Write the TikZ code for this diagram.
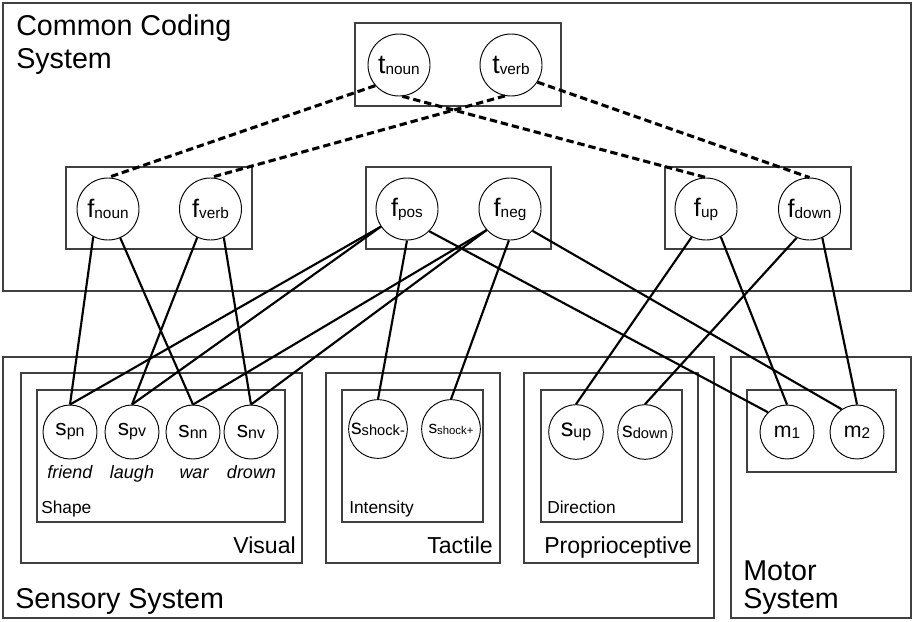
\documentclass[tikz,border=0pt]{standalone}
\usepackage{fontspec}
\setmainfont{Liberation Sans}
% text at a given size in pt
\newcommand\fs[2]{{\fontsize{#1pt}{#1pt}\selectfont #2}}
% unit label: main letter, then a smaller index set on (nearly) the same baseline
\newcommand\ulab[4]{\fs{#1}{#2}\raisebox{-0.8pt}{\fs{#3}{#4}}}
\begin{document}
\begin{tikzpicture}[x=0.75pt,y=-0.75pt,
  frame/.style={draw=black!75,line width=0.9pt},
  unit/.style={circle,draw,line width=0.7pt,inner sep=0pt,fill=white},
  bigunit/.style={unit,minimum size=46.5pt},
  smallunit/.style={unit,minimum size=40.5pt},
  title/.style={inner sep=0pt,font=\fontsize{21.5pt}{24pt}\selectfont},
  modality/.style={inner sep=0pt,font=\fontsize{17.3pt}{20pt}\selectfont},
  feature/.style={inner sep=0pt,font=\fontsize{13pt}{15pt}\selectfont},
  word/.style={inner sep=0pt,font=\fontsize{13.5pt}{15pt}\selectfont\itshape},
  link/.style={line width=1.6pt},
  toplink/.style={line width=2.3pt,dash pattern=on 5.5pt off 3pt}]
\useasboundingbox (0,0) rectangle (912,621);
\fill[white] (0,0) rectangle (912,621);

% system frames
\draw[frame] (3,3) rectangle (911,291);
\draw[frame] (3,357) rectangle (714,618);
\draw[frame] (731,357) rectangle (911,618);
% modality frames
\draw[frame] (21,373) rectangle (302,563);
\draw[frame] (326,373) rectangle (500,563);
\draw[frame] (524,373) rectangle (698,563);
% feature frames
\draw[frame] (37,390) rectangle (285,522);
\draw[frame] (342,390) rectangle (483,522);
\draw[frame] (541,390) rectangle (682,522);
\draw[frame] (747,390) rectangle (896,472);
% common coding groups
\draw[frame] (355,23) rectangle (561,106);
\draw[frame] (66,167) rectangle (252,249);
\draw[frame] (366,167) rectangle (551,249);
\draw[frame] (665,167) rectangle (851,249);

% titles
\node[title,anchor=base west] (cc1) at (16,35) {Common Coding};
\node[title,anchor=base west] (cc2) at (16,68) {System};
\node[title,anchor=base west] (ss) at (15,608) {Sensory System};
\node[title,anchor=base west] (ms1) at (743,580) {Motor};
\node[title,anchor=base west] (ms2) at (743,608) {System};
\node[modality,anchor=base east] (vis) at (296,553) {Visual};
\node[modality,anchor=base east] (tac) at (493,553) {Tactile};
\node[modality,anchor=base east] (pro) at (692,553) {Proprioceptive};
\node[feature,anchor=base west] (shp) at (41,513) {Shape};
\node[feature,anchor=base west] (int) at (349,513) {Intensity};
\node[feature,anchor=base west] (dir) at (547,513) {Direction};

% common coding units
\node[bigunit] (tnoun) at (399,65) {\ulab{20}{t}{11.5}{noun}};
\node[bigunit] (tverb) at (511,65) {\ulab{20}{t}{11.5}{verb}};
\node[bigunit] (fnoun) at (108,209) {\ulab{19}{f}{11.5}{noun}};
\node[bigunit] (fverb) at (210.5,209) {\ulab{19}{f}{11.5}{verb}};
\node[bigunit] (fpos) at (407,209) {\ulab{19}{f}{11.5}{pos}};
\node[bigunit] (fneg) at (510,209) {\ulab{19}{f}{11.5}{neg}};
\node[bigunit] (fup) at (706,209) {\ulab{19}{f}{11.5}{up}};
\node[bigunit] (fdown) at (809.5,209) {\ulab{19}{f}{11.5}{down}};

% sensory units
\node[smallunit] (spn) at (70,432) {\ulab{17}{s}{12}{pn}};
\node[smallunit] (spv) at (132,432) {\ulab{17}{s}{12}{pv}};
\node[smallunit] (snn) at (193,432) {\ulab{17}{s}{12}{nn}};
\node[smallunit] (snv) at (251,432) {\ulab{17}{s}{12}{nv}};
\node[unit,minimum size=44pt] (sshm) at (378,429) {\ulab{16}{s}{11}{shock-}};
\node[unit,minimum size=44pt] (sshp) at (451,429) {\ulab{13}{s}{8.5}{shock+}};
\node[unit,minimum size=41pt] (sup) at (576,432) {\ulab{19}{s}{12}{up}};
\node[unit,minimum size=41pt] (sdown) at (645,432) {\ulab{16}{s}{11}{down}};

% motor units
\node[smallunit] (mone) at (787,432) {\ulab{16}{m}{11.5}{1}};
\node[smallunit] (mtwo) at (857,432) {\ulab{16}{m}{11.5}{2}};

% example words
\node[word,anchor=base] (wfriend) at (70,478) {friend};
\node[word,anchor=base] (wlaugh) at (132,478) {laugh};
\node[word,anchor=base] (wwar) at (194,478) {war};
\node[word,anchor=base] (wdrown) at (251.5,478) {drown};

% top-level (dashed) links
\draw[toplink] (tnoun.221) -- (fnoun.north);
\draw[toplink] (tnoun.276) -- (fup.north);
\draw[toplink] (tverb.259) -- (fverb.north);
\draw[toplink] (tverb.327) -- (fdown.north);

% feature-to-sensory/motor links
\draw[link] (fnoun.242) -- (spn.north);
\draw[link] (fnoun.293) -- (snn.north);
\draw[link] (fverb.245) -- (spv.north);
\draw[link] (fverb.295) -- (snv.north);
\draw[link] (fpos.214) -- (spn.north);
\draw[link] (fpos.214) -- (spv.north);
\draw[link] (fpos.270) -- (sshm.north);
\draw[link] (fpos.315) -- (mone.134);
\draw[link] (fneg.222) -- (snn.north);
\draw[link] (fneg.222) -- (snv.north);
\draw[link] (fneg.268) -- (sshp.north);
\draw[link] (fneg.316) -- (mtwo.124);
\draw[link] (fup.243) -- (sup.north);
\draw[link] (fup.298) -- (mone.north);
\draw[link] (fdown.246) -- (sdown.north);
\draw[link] (fdown.294) -- (mtwo.north);
\end{tikzpicture}
\end{document}
